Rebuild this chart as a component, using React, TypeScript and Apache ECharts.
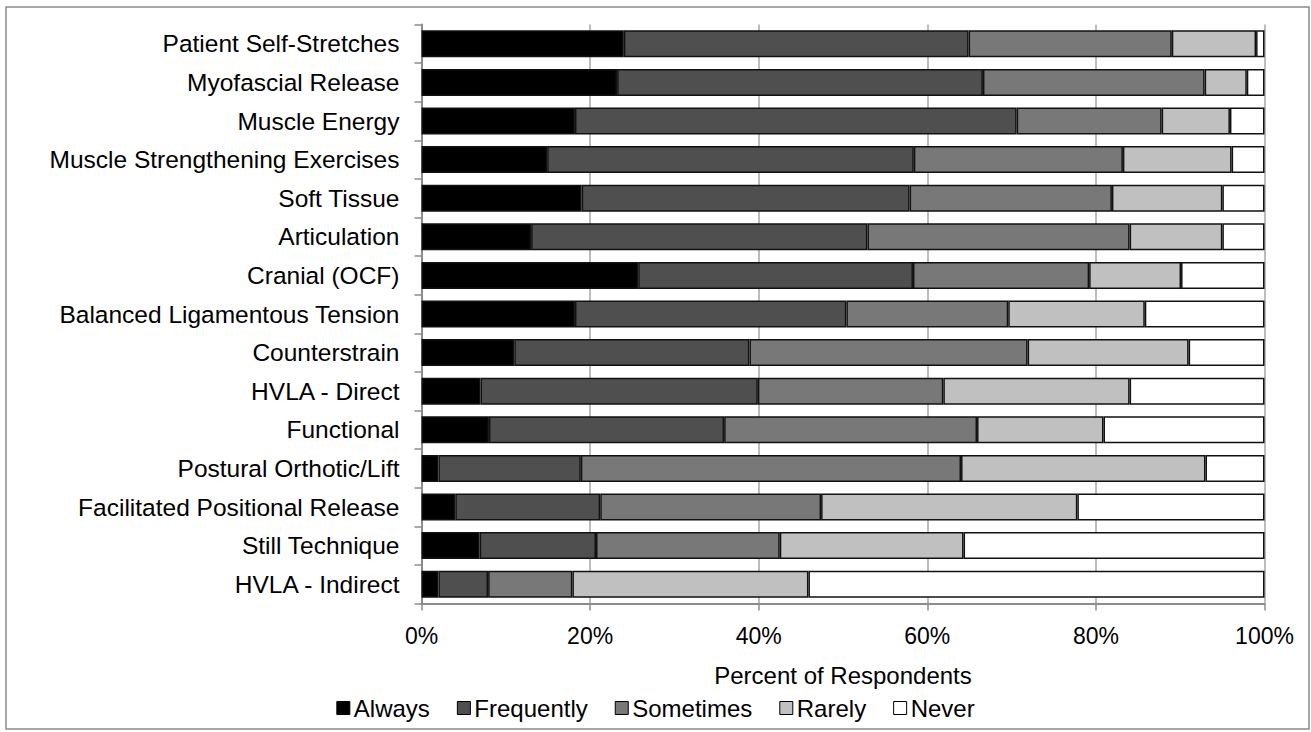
import React, { useEffect, useRef } from "react";
import * as echarts from "echarts";

const categories = [
  "Patient Self-Stretches",
  "Myofascial Release",
  "Muscle Energy",
  "Muscle Strengthening Exercises",
  "Soft Tissue",
  "Articulation",
  "Cranial (OCF)",
  "Balanced Ligamentous Tension",
  "Counterstrain",
  "HVLA - Direct",
  "Functional",
  "Postural Orthotic/Lift",
  "Facilitated Positional Release",
  "Still Technique",
  "HVLA - Indirect",
];

const always = [24.0, 23.2, 18.2, 14.9, 19.0, 13.0, 25.7, 18.2, 11.0, 7.0, 8.0, 2.0, 4.0, 6.9, 2.0];
const frequently = [40.9, 43.4, 52.4, 43.5, 38.9, 39.9, 32.6, 32.2, 27.9, 32.9, 27.9, 16.9, 17.2, 13.8, 5.9];
const sometimes = [24.1, 26.3, 17.2, 24.8, 24.0, 31.1, 20.9, 19.2, 33.0, 22.0, 30.0, 45.1, 26.2, 21.8, 10.0];
const rarely = [10.0, 5.0, 8.1, 12.9, 13.1, 11.0, 10.9, 16.2, 19.1, 22.1, 15.0, 29.0, 30.4, 21.8, 28.0];
const never = [1.0, 2.1, 4.1, 3.9, 5.0, 5.0, 9.9, 14.2, 9.0, 16.0, 19.1, 7.0, 22.2, 35.7, 54.1];

const seriesNames = ["Always", "Frequently", "Sometimes", "Rarely", "Never"];
const seriesData = [always, frequently, sometimes, rarely, never];
const seriesColors = ["#000000", "#4f4f4f", "#787878", "#c0c0c0", "#ffffff"];

const FONT = "'Liberation Sans', Arial, sans-serif";

export default function App() {
  const ref = useRef<HTMLDivElement>(null);
  useEffect(() => {
    if (!ref.current) return;
    const chart = echarts.init(ref.current, undefined, { renderer: "svg" });
    chart.setOption({
      animation: false,
      backgroundColor: "#ffffff",
      textStyle: { fontFamily: FONT },
      graphic: [
        {
          type: "rect",
          z: -10,
          shape: { x: 6, y: 7, width: 1303, height: 722 },
          style: { fill: "none", stroke: "#8a8a8a", lineWidth: 1.5 },
        },
      ],
      grid: { left: 421.5, right: 46.5, top: 24.5, bottom: 128.5, containLabel: false },
      legend: {
        data: seriesNames,
        left: "center",
        top: 696,
        padding: 0,
        icon: "rect",
        itemWidth: 13,
        itemHeight: 13,
        itemGap: 27,
        textStyle: { fontSize: 24, color: "#000", fontFamily: FONT, padding: [0, 0, 0, -1] },
        itemStyle: { borderColor: "#000", borderWidth: 1 },
      },
      xAxis: {
        type: "value",
        min: 0,
        max: 100,
        interval: 20,
        name: "Percent of Respondents",
        nameLocation: "middle",
        nameGap: 60,
        nameTextStyle: { fontSize: 24, color: "#000", fontFamily: FONT },
        axisLine: { show: true, lineStyle: { color: "#8c8c8c", width: 2 } },
        axisTick: { show: true, length: 7, lineStyle: { color: "#8c8c8c", width: 1.5 } },
        axisLabel: { formatter: "{value}%", fontSize: 23, color: "#000", margin: 21, fontFamily: FONT },
        splitLine: { show: true, lineStyle: { color: "#a6a6a6", width: 1.5 } },
      },
      yAxis: {
        type: "category",
        data: categories,
        inverse: true,
        axisLine: { show: true, lineStyle: { color: "#8c8c8c", width: 2 } },
        axisTick: { show: true, length: 7, lineStyle: { color: "#8c8c8c", width: 1.5 } },
        axisLabel: { fontSize: 24.5, color: "#000", margin: 22, fontFamily: FONT },
        splitLine: { show: false },
      },
      series: seriesNames.map((name, i) => ({
        name,
        type: "bar",
        stack: "total",
        data: seriesData[i],
        barWidth: 27,
        itemStyle: { color: seriesColors[i], borderColor: "#111", borderWidth: 1.5 },
      })),
    });
    return () => chart.dispose();
  }, []);
  return (
    <div
      ref={ref}
      style={{ position: "fixed", left: 0, top: 0, width: 1311, height: 732 }}
    />
  );
}
